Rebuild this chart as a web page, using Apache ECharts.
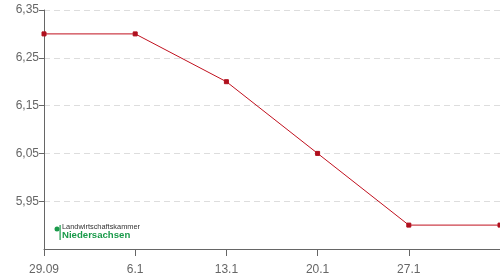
<!DOCTYPE html>
<html>
<head>
<meta charset="utf-8">
<style>html,body{margin:0;padding:0;background:#fff}#c{width:500px;height:280px}</style>
<script src="https://cdn.jsdelivr.net/npm/echarts@6/dist/echarts.min.js"></script>
</head>
<body>
<div id="c"></div>
<script>
var categories = ['29.09', '6.1', '13.1', '20.1', '27.1', '3.2'];
var tickLabels = ['29.09', '6.1', '13.1', '20.1', '27.1', ''];
var prices = [6.30, 6.30, 6.20, 6.05, 5.90, 5.90];

var chart = echarts.init(document.getElementById('c'), null, {renderer: 'canvas'});
chart.setOption({
  animation: false,
  grid: {left: 44, right: 0, top: 10, bottom: 31, containLabel: false, outerBoundsMode: 'none'},
  xAxis: {
    type: 'category',
    data: categories,
    boundaryGap: false,
    axisLine: {lineStyle: {color: '#666', width: 1}},
    axisTick: {show: true, length: 7, lineStyle: {color: '#666'}, alignWithLabel: true},
    axisLabel: {color: '#666', fontSize: 12, fontFamily: 'Liberation Sans, Arial, sans-serif', margin: 15,
      hideOverlap: false,
      formatter: function (v, i) { return tickLabels[i]; }},
    splitLine: {show: false}
  },
  yAxis: {
    type: 'value',
    min: 5.85,
    max: 6.35,
    interval: 0.1,
    axisLine: {show: true, lineStyle: {color: '#666', width: 1}},
    axisTick: {show: true, length: 5, lineStyle: {color: '#666'}},
    axisLabel: {color: '#666', fontSize: 12, fontFamily: 'Liberation Sans, Arial, sans-serif', margin: 5,
      showMinLabel: false,
      formatter: function (v) { return v.toFixed(2).replace('.', ','); }},
    splitLine: {show: true, lineStyle: {color: '#ddd', type: [6, 4], width: 1}}
  },
  graphic: [
    {type: 'circle', shape: {cx: 57, cy: 229, r: 2.5}, style: {fill: '#1a9a4a'}, silent: true},
    {type: 'rect', shape: {x: 59.5, y: 225, width: 1.2, height: 15}, style: {fill: '#1a9a4a'}, silent: true},
    {type: 'text', x: 62, y: 227, style: {text: 'Landwirtschaftskammer', font: '7.4px "Liberation Sans", Arial, sans-serif', fill: '#333', textVerticalAlign: 'middle'}, silent: true},
    {type: 'text', x: 62, y: 235.5, style: {text: 'Niedersachsen', font: 'bold 9.6px "Liberation Sans", Arial, sans-serif', fill: '#1a9a4a', textVerticalAlign: 'middle'}, silent: true}
  ],
  series: [{
    type: 'line',
    data: prices,
    symbol: 'rect',
    symbolSize: 4,
    showSymbol: true,
    clip: false,
    lineStyle: {color: '#c0101e', width: 1},
    itemStyle: {color: '#b0101e', borderColor: '#b0101e'}
  }]
});
</script>
</body>
</html>
